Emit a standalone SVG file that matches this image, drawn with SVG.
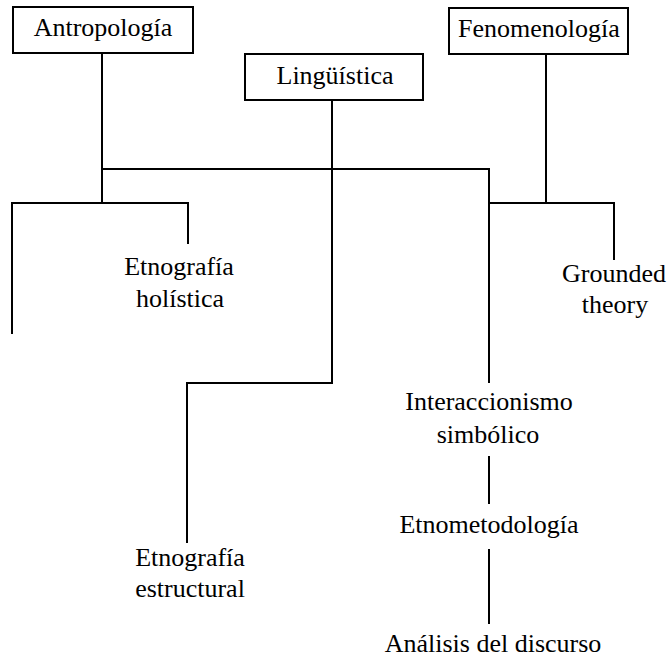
<svg xmlns="http://www.w3.org/2000/svg" width="671" height="660" viewBox="0 0 671 660">
<style>
.box{fill:#fff;stroke:#000;stroke-width:2}
.ln{fill:none;stroke:#000;stroke-width:2;stroke-linecap:square}
text{font-family:"Liberation Serif","Times New Roman",serif;font-size:26px;fill:#000;text-anchor:middle}
</style>
<rect width="671" height="660" fill="#fff"/>
<g id="connectors">
<path class="ln" d="M102,53 V203"/>
<path class="ln" d="M102,169 H489 V382"/>
<path class="ln" d="M12,333 V203 H188 V243"/>
<path class="ln" d="M332,100 V383 H187 V542"/>
<path class="ln" d="M546,54 V203"/>
<path class="ln" d="M489,203 H614 V259"/>
<path class="ln" d="M489,457 V503"/>
<path class="ln" d="M489,550 V623"/>
</g>
<g id="antropologia"><rect class="box" x="13" y="7" width="180" height="46"/><text x="103" y="36">Antropología</text></g>
<g id="fenomenologia"><rect class="box" x="449" y="8" width="179" height="46"/><text x="539" y="37">Fenomenología</text></g>
<g id="linguistica"><rect class="box" x="245" y="54" width="178" height="46"/><text x="335" y="84">Lingüística</text></g>
<g id="etnografia-holistica"><text x="179" y="275">Etnografía</text><text x="180" y="307">holística</text></g>
<g id="grounded-theory"><text x="614" y="282">Grounded</text><text x="615" y="313">theory</text></g>
<g id="interaccionismo"><text x="489" y="410">Interaccionismo</text><text x="488" y="443">simbólico</text></g>
<g id="etnometodologia"><text x="489" y="533">Etnometodología</text></g>
<g id="etnografia-estructural"><text x="190" y="566">Etnografía</text><text x="190" y="597">estructural</text></g>
<g id="analisis"><text x="493" y="652">Análisis del discurso</text></g>
</svg>
